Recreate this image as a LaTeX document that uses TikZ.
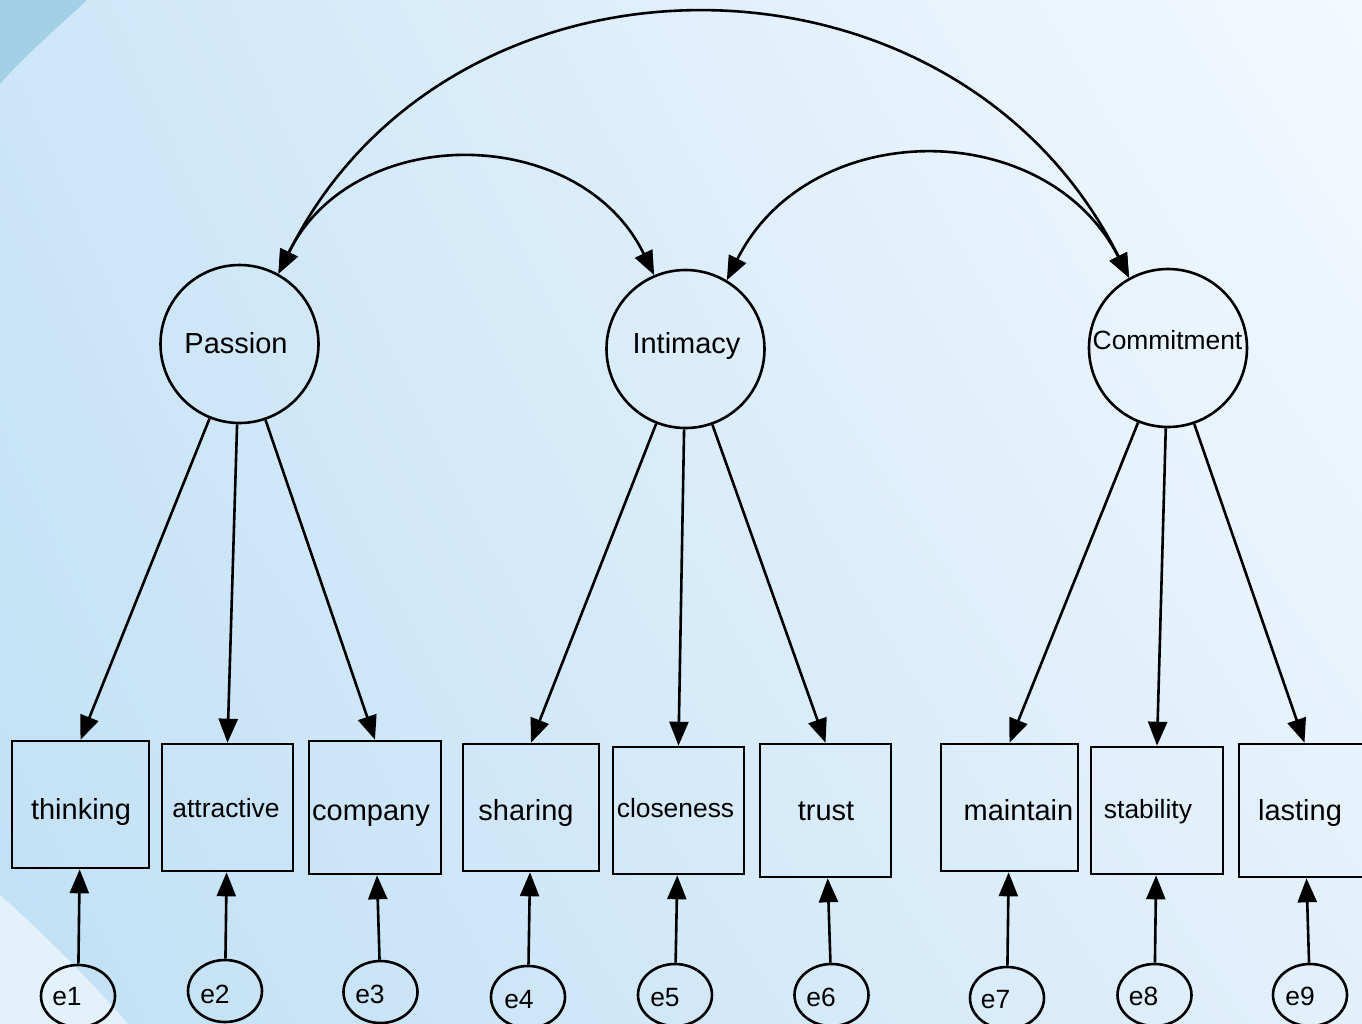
\documentclass[tikz,border=0pt]{standalone}
\usepackage{fontspec}
\setmainfont{Liberation Sans}
\usetikzlibrary{arrows.meta,shapes.geometric,shadings}
\definecolor{bgUL}{RGB}{205,230,248}
\definecolor{bgUR}{RGB}{244,249,254}
\definecolor{bgLL}{RGB}{193,224,245}
\definecolor{bgLR}{RGB}{226,240,251}
\definecolor{cornerdark}{RGB}{162,208,229}
\definecolor{cornerlight}{RGB}{236,246,252}
\begin{document}
\begin{tikzpicture}[x=0.5pt,y=-0.5pt,line width=1.3pt,
  lat/.style={draw,circle,minimum size=79pt,inner sep=0pt},
  obs/.style={draw,rectangle,inner sep=0pt},
  err/.style={draw,ellipse,minimum width=37pt,minimum height=31pt,inner sep=0pt},
  bigtxt/.style={font=\fontsize{14.5}{16}\selectfont,anchor=base,inner sep=0pt},
  smalltxt/.style={font=\fontsize{13.2}{15}\selectfont,anchor=base,inner sep=0pt},
  arr/.style={-{Triangle[length=12pt,width=9.5pt]}},
  dbl/.style={{Triangle[length=12pt,width=9.5pt]}-{Triangle[length=12pt,width=9.5pt]}}]
% background
\useasboundingbox (0,0) rectangle (1362,1024);
\shade[upper left=bgUL,upper right=bgUR,lower left=bgLL,lower right=bgLR] (0,0) rectangle (1362,1024);
\fill[cornerdark] (0,0) -- (87,0) .. controls (55,30) and (25,55) .. (0,84) -- cycle;
\fill[cornerlight,opacity=0.8] (0,895) .. controls (45,935) and (90,980) .. (128,1024) -- (0,1024) -- cycle;

% latent variables
\node[lat] (Passion) at (239.5,344) {};
\node[lat] (Intimacy) at (685.5,349) {};
\node[lat] (Commitment) at (1168,348) {};
\node[bigtxt] (tPassion) at (236,353) {Passion};
\node[bigtxt] (tIntimacy) at (686.5,353) {Intimacy};
\node[smalltxt] (tCommitment) at (1167.5,349) {Commitment};

% observed variables
\node[obs,minimum width=68.5pt,minimum height=63.5pt] (thinking) at (80.5,804.5) {};
\node[obs,minimum width=65.5pt,minimum height=63.5pt] (attractive) at (227.5,807.5) {};
\node[obs,minimum width=66pt,minimum height=66.5pt] (company) at (375,807.5) {};
\node[obs,minimum width=68pt,minimum height=63.5pt] (sharing) at (531,807.5) {};
\node[obs,minimum width=65.5pt,minimum height=63.5pt] (closeness) at (678.5,810.5) {};
\node[obs,minimum width=65.5pt,minimum height=66.5pt] (trust) at (825.5,810.5) {};
\node[obs,minimum width=68.5pt,minimum height=63.5pt] (maintain) at (1009.5,807.5) {};
\node[obs,minimum width=66pt,minimum height=63.5pt] (stability) at (1157,810.5) {};
\node[obs,minimum width=65.5pt,minimum height=66.5pt] (lasting) at (1304.5,810.5) {};

\node[bigtxt] (tthinking) at (81,819) {thinking};
\node[smalltxt] (tattractive) at (226,817) {attractive};
\node[bigtxt] (tcompany) at (371,820) {company};
\node[bigtxt] (tsharing) at (526,820) {sharing};
\node[smalltxt] (tcloseness) at (675.5,817) {closeness};
\node[bigtxt] (ttrust) at (826,820) {trust};
\node[bigtxt] (tmaintain) at (1018.5,820) {maintain};
\node[smalltxt] (tstability) at (1148,818) {stability};
\node[bigtxt] (tlasting) at (1300,820) {lasting};

% error terms
\node[err] (e1) at (78,996) {};
\node[err] (e2) at (225,991) {};
\node[err] (e3) at (380.5,992) {};
\node[err] (e4) at (528,997) {};
\node[err] (e5) at (675,995) {};
\node[err] (e6) at (831.5,995) {};
\node[err] (e7) at (1007,998) {};
\node[err] (e8) at (1154.5,995) {};
\node[err] (e9) at (1310,995) {};

\node[smalltxt] (te1) at (67,1005) {e1};
\node[smalltxt] (te2) at (215,1003) {e2};
\node[smalltxt] (te3) at (370,1003) {e3};
\node[smalltxt] (te4) at (519,1008) {e4};
\node[smalltxt] (te5) at (665,1006) {e5};
\node[smalltxt] (te6) at (821,1006) {e6};
\node[smalltxt] (te7) at (995.5,1008) {e7};
\node[smalltxt] (te8) at (1143.5,1005) {e8};
\node[smalltxt] (te9) at (1300,1005) {e9};

% loadings
\draw[arr] (Passion) -- (thinking.north);
\draw[arr] (Passion) -- (attractive.north);
\draw[arr] (Passion) -- (company.north);
\draw[arr] (Intimacy) -- (sharing.north);
\draw[arr] (Intimacy) -- (closeness.north);
\draw[arr] (Intimacy) -- (trust.north);
\draw[arr] (Commitment) -- (maintain.north);
\draw[arr] (Commitment) -- (stability.north);
\draw[arr] (Commitment) -- (lasting.north);

% errors
\draw[arr] (e1) -- (thinking);
\draw[arr] (e2) -- (attractive);
\draw[arr] (e3) -- (company);
\draw[arr] (e4) -- (sharing);
\draw[arr] (e5) -- (closeness);
\draw[arr] (e6) -- (trust);
\draw[arr] (e7) -- (maintain);
\draw[arr] (e8) -- (stability);
\draw[arr] (e9) -- (lasting);

% covariances
\draw[dbl] (Passion.61) .. controls (353,121) and (580,123) .. (Intimacy.113);
\draw[dbl] (Intimacy.59) .. controls (809,116) and (1046,115) .. (Commitment.119);
\draw[dbl] (Passion.61) .. controls (450,-72) and (955,-71) .. (Commitment.119);
\end{tikzpicture}
\end{document}
